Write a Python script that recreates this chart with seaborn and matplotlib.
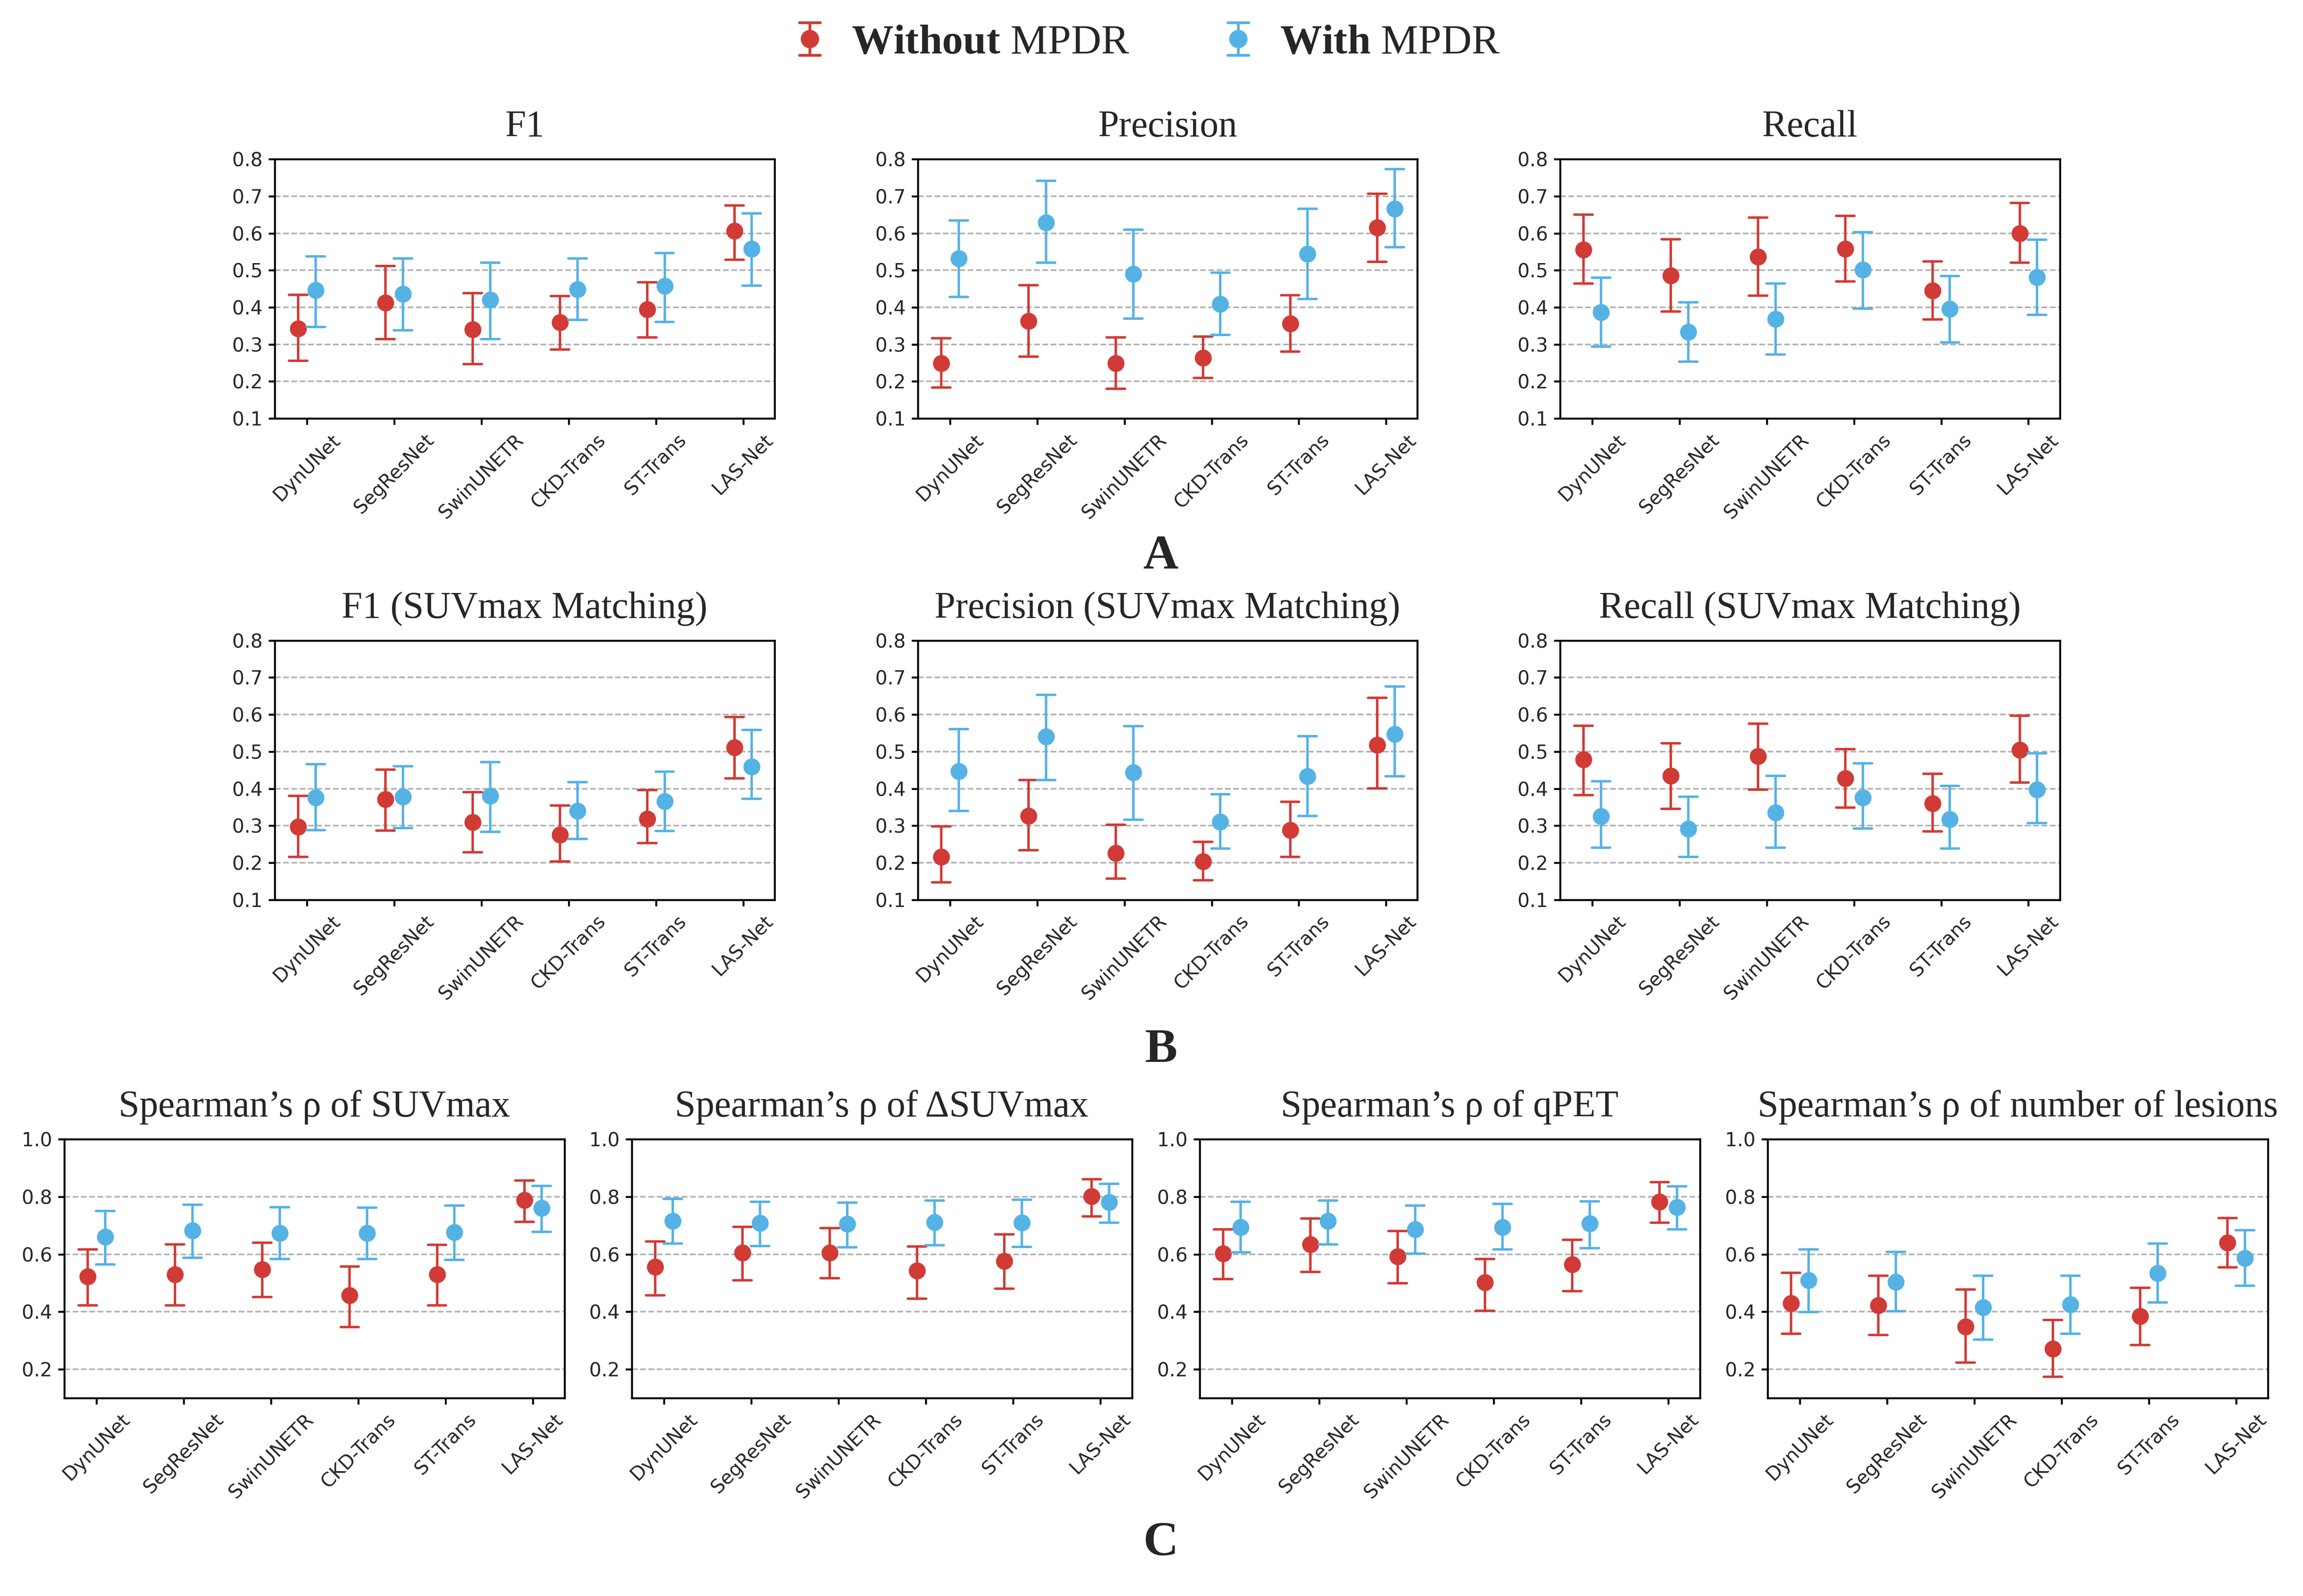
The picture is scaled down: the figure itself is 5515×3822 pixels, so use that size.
import numpy as np
import pandas as pd
import seaborn as sns
import matplotlib.pyplot as plt
from matplotlib.lines import Line2D
from matplotlib.legend_handler import HandlerBase

models = ["DynUNet", "SegResNet", "SwinUNETR", "CKD-Trans", "ST-Trans", "LAS-Net"]
groups = ["Without MPDR", "With MPDR"]
palette = {"Without MPDR": "#D13A35", "With MPDR": "#55B2E5"}

# each entry: (lower, mean, upper) per model
f1_without = [(0.256, 0.343, 0.434), (0.314, 0.412, 0.511), (0.247, 0.340, 0.438),
              (0.286, 0.359, 0.430), (0.319, 0.394, 0.468), (0.528, 0.606, 0.675)]
f1_with = [(0.347, 0.446, 0.538), (0.338, 0.436, 0.532), (0.314, 0.420, 0.520),
           (0.366, 0.448, 0.532), (0.361, 0.457, 0.547), (0.459, 0.558, 0.653)]

precision_without = [(0.183, 0.249, 0.316), (0.267, 0.363, 0.460), (0.180, 0.249, 0.319),
                     (0.209, 0.264, 0.321), (0.281, 0.356, 0.433), (0.523, 0.615, 0.707)]
precision_with = [(0.428, 0.532, 0.634), (0.521, 0.629, 0.741), (0.370, 0.490, 0.610),
                  (0.325, 0.409, 0.493), (0.423, 0.544, 0.666), (0.562, 0.666, 0.773)]

recall_without = [(0.464, 0.556, 0.650), (0.389, 0.486, 0.584), (0.431, 0.536, 0.642),
                  (0.470, 0.558, 0.647), (0.367, 0.445, 0.524), (0.520, 0.600, 0.682)]
recall_with = [(0.294, 0.386, 0.480), (0.253, 0.334, 0.413), (0.273, 0.368, 0.464),
               (0.397, 0.501, 0.603), (0.305, 0.396, 0.485), (0.380, 0.481, 0.583)]

f1_suv_without = [(0.216, 0.297, 0.381), (0.287, 0.372, 0.452), (0.228, 0.309, 0.391),
                  (0.203, 0.276, 0.354), (0.253, 0.319, 0.396), (0.428, 0.511, 0.593)]
f1_suv_with = [(0.288, 0.376, 0.466), (0.294, 0.378, 0.461), (0.284, 0.381, 0.472),
               (0.264, 0.340, 0.418), (0.286, 0.366, 0.446), (0.373, 0.459, 0.558)]

precision_suv_without = [(0.147, 0.216, 0.298), (0.234, 0.326, 0.423), (0.157, 0.226, 0.303),
                         (0.153, 0.203, 0.256), (0.216, 0.288, 0.365), (0.401, 0.518, 0.645)]
precision_suv_with = [(0.340, 0.447, 0.561), (0.423, 0.541, 0.653), (0.316, 0.444, 0.569),
                      (0.238, 0.311, 0.385), (0.326, 0.433, 0.542), (0.434, 0.547, 0.676)]

recall_suv_without = [(0.383, 0.478, 0.570), (0.346, 0.435, 0.522), (0.397, 0.487, 0.576),
                      (0.349, 0.428, 0.507), (0.285, 0.360, 0.440), (0.416, 0.504, 0.597)]
recall_suv_with = [(0.241, 0.325, 0.420), (0.216, 0.291, 0.378), (0.241, 0.335, 0.435),
                   (0.292, 0.376, 0.468), (0.239, 0.317, 0.408), (0.307, 0.397, 0.495)]

rho_suvmax_without = [(0.422, 0.523, 0.617), (0.422, 0.530, 0.635), (0.451, 0.547, 0.640),
                      (0.347, 0.457, 0.558), (0.422, 0.530, 0.633), (0.713, 0.788, 0.856)]
rho_suvmax_with = [(0.565, 0.661, 0.750), (0.588, 0.682, 0.773), (0.583, 0.674, 0.763),
                   (0.583, 0.674, 0.762), (0.580, 0.676, 0.770), (0.678, 0.760, 0.837)]

rho_dsuvmax_without = [(0.457, 0.556, 0.645), (0.510, 0.605, 0.695), (0.517, 0.605, 0.691),
                       (0.446, 0.543, 0.627), (0.481, 0.576, 0.669), (0.731, 0.801, 0.861)]
rho_dsuvmax_with = [(0.637, 0.715, 0.792), (0.628, 0.709, 0.783), (0.624, 0.706, 0.780),
                    (0.631, 0.711, 0.787), (0.625, 0.710, 0.790), (0.710, 0.781, 0.845)]

rho_qpet_without = [(0.514, 0.603, 0.686), (0.539, 0.635, 0.724), (0.499, 0.592, 0.681),
                    (0.404, 0.502, 0.583), (0.472, 0.565, 0.650), (0.710, 0.783, 0.850)]
rho_qpet_with = [(0.607, 0.694, 0.782), (0.635, 0.715, 0.787), (0.603, 0.686, 0.770),
                 (0.617, 0.694, 0.775), (0.622, 0.707, 0.784), (0.687, 0.763, 0.836)]

rho_lesions_without = [(0.324, 0.429, 0.536), (0.320, 0.423, 0.526), (0.223, 0.349, 0.478),
                       (0.174, 0.272, 0.372), (0.284, 0.385, 0.484), (0.554, 0.640, 0.726)]
rho_lesions_with = [(0.399, 0.509, 0.617), (0.402, 0.503, 0.608), (0.303, 0.415, 0.525),
                    (0.323, 0.425, 0.525), (0.432, 0.534, 0.637), (0.490, 0.587, 0.684)]

panels_top = [("F1", f1_without, f1_with),
              ("Precision", precision_without, precision_with),
              ("Recall", recall_without, recall_with)]
panels_mid = [("F1 (SUVmax Matching)", f1_suv_without, f1_suv_with),
              ("Precision (SUVmax Matching)", precision_suv_without, precision_suv_with),
              ("Recall (SUVmax Matching)", recall_suv_without, recall_suv_with)]
panels_bot = [("Spearman\u2019s \u03c1 of SUVmax", rho_suvmax_without, rho_suvmax_with),
              ("Spearman\u2019s \u03c1 of \u0394SUVmax", rho_dsuvmax_without, rho_dsuvmax_with),
              ("Spearman\u2019s \u03c1 of qPET", rho_qpet_without, rho_qpet_with),
              ("Spearman\u2019s \u03c1 of number of lesions", rho_lesions_without, rho_lesions_with)]


def to_frame(without, with_):
    rows = []
    for group, triples in zip(groups, [without, with_]):
        for model, trip in zip(models, triples):
            for v in trip:
                rows.append({"model": model, "group": group, "value": v})
    return pd.DataFrame(rows)


sns.set_style("ticks")
plt.rcParams['font.family'] = ['DejaVu Sans']
plt.rcParams['mathtext.fontset'] = 'custom'
plt.rcParams['mathtext.rm'] = 'Liberation Serif'
plt.rcParams['mathtext.bf'] = 'Liberation Serif:bold'

serif = ['Liberation Serif', 'DejaVu Serif']


class ErrorbarHandle(HandlerBase):
    # vertical error bar with caps and a dot, like the legend of plt.errorbar
    def create_artists(self, legend, orig_handle, xdescent, ydescent,
                       width, height, fontsize, trans):
        c = orig_handle.get_color()
        xc = width / 2 - xdescent
        yc = height / 2 - ydescent
        half = 0.39 * fontsize
        cap = 0.25 * fontsize
        bar = Line2D([xc, xc], [yc - half, yc + half], color=c, lw=1.6, transform=trans)
        top = Line2D([xc - cap, xc + cap], [yc + half, yc + half], color=c, lw=1.6, transform=trans)
        bot = Line2D([xc - cap, xc + cap], [yc - half, yc - half], color=c, lw=1.6, transform=trans)
        dot = Line2D([xc], [yc], marker="o", markersize=9.5, color=c, linestyle="none",
                     transform=trans)
        return [bar, top, bot, dot]


def draw_panel(ax, title, without, with_, ylim, yticks):
    df = to_frame(without, with_)
    sns.pointplot(data=df, x="model", y="value", hue="group", order=models,
                  hue_order=groups, palette=palette, estimator="median",
                  errorbar=lambda v: (v.min(), v.max()), dodge=0.2,
                  linestyle="none", capsize=0.21, markersize=7.7,
                  err_kws={"linewidth": 1.4}, legend=False, ax=ax)
    ax.set_ylim(*ylim)
    ax.set_yticks(yticks)
    ax.set_xlim(-0.37, 5.36)
    ax.yaxis.grid(True, linestyle="--", color="#b0b0b0", linewidth=0.9)
    ax.set_axisbelow(True)
    ax.set(xlabel="", ylabel="")
    ax.set_title(title, fontsize=21.5, family=serif, pad=13)
    ax.tick_params(axis="both", labelsize=11, length=3.5, width=1.1, color="black")
    for lab in ax.get_xticklabels():
        lab.set_rotation(45)
        lab.set_ha("center")
    for sp in ax.spines.values():
        sp.set_visible(True)
        sp.set_linewidth(1.1)
        sp.set_color("black")


fig = plt.figure(figsize=(5515 / 300, 3822 / 300), dpi=300)

w3 = 0.2170
h = 0.1625
for (title, wo, wi), x0 in zip(panels_top, [0.1193, 0.3985, 0.6774]):
    ax = fig.add_axes([x0, 0.7378, w3, h])
    draw_panel(ax, title, wo, wi, (0.1, 0.8), np.arange(0.1, 0.81, 0.1))
for (title, wo, wi), x0 in zip(panels_mid, [0.1193, 0.3985, 0.6774]):
    ax = fig.add_axes([x0, 0.4362, w3, h])
    draw_panel(ax, title, wo, wi, (0.1, 0.8), np.arange(0.1, 0.81, 0.1))
for (title, wo, wi), x0 in zip(panels_bot, [0.0279, 0.2743, 0.5209, 0.7675]):
    ax = fig.add_axes([x0, 0.1240, 0.2172, 0.1622])
    draw_panel(ax, title, wo, wi, (0.1, 1.0), [0.2, 0.4, 0.6, 0.8, 1.0])

handles = [Line2D([], [], color=palette[g]) for g in groups]
fig.legend(handles, [r"$\mathbf{Without}$ MPDR", r"$\mathbf{With}$ MPDR"],
           loc="center", bbox_to_anchor=(0.497, 0.973), ncol=2, frameon=False,
           prop={"family": serif, "size": 24}, handlelength=1.0,
           handletextpad=0.5, columnspacing=2.1,
           handler_map={Line2D: ErrorbarHandle()})

for letter, y in [("A", 0.651), ("B", 0.342), ("C", 0.033)]:
    fig.text(0.504, y, letter, ha="center", va="center", fontsize=28,
             fontweight="bold", family=serif)

fig.savefig("out.png", dpi=300)
